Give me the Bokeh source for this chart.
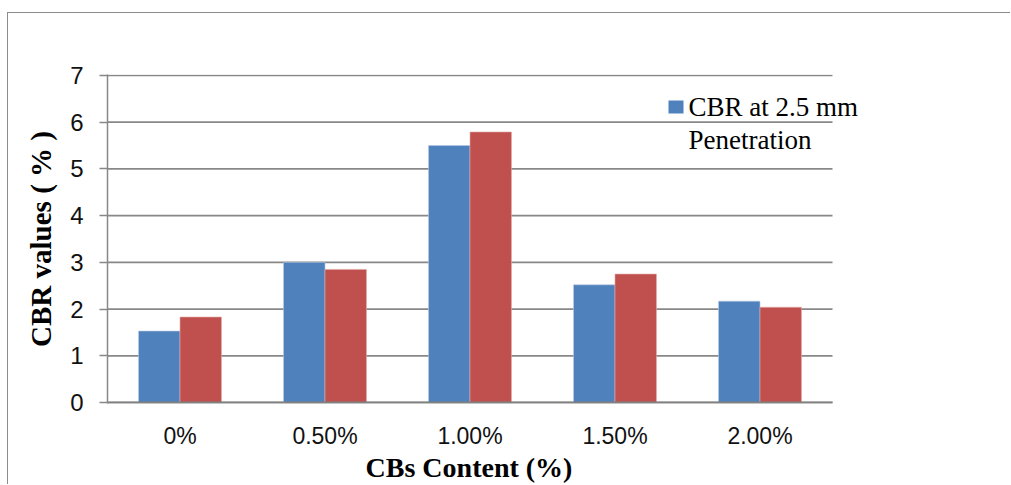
import numpy as np
from bokeh.plotting import figure
from bokeh.models import Range1d, Label, BoxAnnotation, FixedTicker, ColumnDataSource
from bokeh.embed import file_html
from bokeh.resources import INLINE

categories = ["0%", "0.50%", "1.00%", "1.50%", "2.00%"]
cbr_2_5mm = [1.53, 3.00, 5.50, 2.52, 2.17]
cbr_5_0mm = [1.83, 2.85, 5.79, 2.75, 2.04]
y_ticks = [0, 1, 2, 3, 4, 5, 6, 7]
legend_lines = ["CBR at 2.5 mm", "Penetration"]
x_title = "CBs Content (%)"
y_title = "CBR values ( % )"

TICK_FONT = "'Liberation Sans', Arial, sans-serif"
SERIF = "'Liberation Serif', 'Times New Roman', serif"
BLUE = "#4F81BD"
RED = "#C0504D"
GRID = "#888888"

n = len(categories)
centers = np.arange(n) + 0.5
bw = 0.286
source = ColumnDataSource(data=dict(x1=centers - bw / 2, x2=centers + bw / 2,
                                    s1=cbr_2_5mm, s2=cbr_5_0mm))

# frame: x 107..907 (145px per category, extra room on the right so the legend text
# is not clipped), y 74..404
p = figure(x_range=Range1d(0, 800 / 145), y_range=Range1d(-0.02, 7.02),
           width=1003, height=472, output_backend="svg", toolbar_location=None,
           min_border_left=99, min_border_right=1003 - 899, min_border_top=61, min_border_bottom=81)
p.margin = (12, 0, 0, 7)
p.styles = {"border-left": "1px solid #8c8c8c", "border-top": "1px solid #8c8c8c"}
p.outline_line_color = None
p.background_fill_color = "white"
p.border_fill_color = "white"
p.xgrid.grid_line_color = None
p.ygrid.grid_line_color = None

# horizontal gridlines across the category span
p.segment(x0=[0] * len(y_ticks), x1=[n] * len(y_ticks), y0=y_ticks, y1=y_ticks,
          line_color=GRID, line_width=1.6)

p.vbar(x="x1", top="s1", width=bw, source=source,
       fill_color=BLUE, line_color="#b9c9e0", line_width=0.6)
p.vbar(x="x2", top="s2", width=bw, source=source,
       fill_color=RED, line_color="#e3aaa8", line_width=0.6)

# category axis baseline
p.segment(x0=[0], x1=[n], y0=[0], y1=[0], line_color="#808080", line_width=2.2)

p.yaxis.ticker = FixedTicker(ticks=y_ticks)
p.yaxis.axis_line_color = GRID
p.yaxis.axis_line_width = 1.5
p.yaxis.major_tick_line_color = GRID
p.yaxis.major_tick_line_width = 1.6
p.yaxis.major_tick_out = 8
p.yaxis.major_tick_in = 0
p.yaxis.minor_tick_line_color = None
p.yaxis.major_label_text_font = TICK_FONT
p.yaxis.major_label_text_font_size = "24px"
p.yaxis.major_label_text_color = "#111111"
p.yaxis.major_label_standoff = 16
p.yaxis.axis_label = y_title
p.yaxis.axis_label_text_font = SERIF
p.yaxis.axis_label_text_font_style = "bold"
p.yaxis.axis_label_text_font_size = "29px"
p.yaxis.axis_label_text_color = "black"
p.yaxis.axis_label_standoff = 10

p.xaxis.ticker = FixedTicker(ticks=list(centers))
p.xaxis.major_label_overrides = {float(c): lab for c, lab in zip(centers, categories)}
p.xaxis.axis_line_color = None
p.xaxis.major_tick_line_color = None
p.xaxis.major_tick_out = 0
p.xaxis.major_tick_in = 0
p.xaxis.minor_tick_line_color = None
p.xaxis.major_label_text_font = TICK_FONT
p.xaxis.major_label_text_font_size = "23px"
p.xaxis.major_label_text_color = "#111111"
p.xaxis.major_label_standoff = 19
# trailing no-break spaces shift the centred title back over the category span
p.xaxis.axis_label = x_title + "\u00a0" * 11
p.xaxis.axis_label_text_font = SERIF
p.xaxis.axis_label_text_font_style = "bold"
p.xaxis.axis_label_text_font_size = "28px"
p.xaxis.axis_label_text_color = "black"
p.xaxis.axis_label_standoff = 0

# legend (only the first series entry is visible in the reference)
p.add_layout(BoxAnnotation(left=561, right=576, bottom=290, top=303,
                           left_units="screen", right_units="screen",
                           bottom_units="screen", top_units="screen",
                           fill_color=BLUE, fill_alpha=1.0, line_color=None))
p.add_layout(Label(x=581, y=297, x_units="screen", y_units="screen", text=legend_lines[0],
                   text_font=SERIF, text_font_size="27px", text_color="black",
                   text_baseline="alphabetic"))
p.add_layout(Label(x=581, y=264, x_units="screen", y_units="screen", text=legend_lines[1],
                   text_font=SERIF, text_font_size="27px", text_color="black",
                   text_baseline="alphabetic"))

open("out.html", "w").write(file_html(p, INLINE))
